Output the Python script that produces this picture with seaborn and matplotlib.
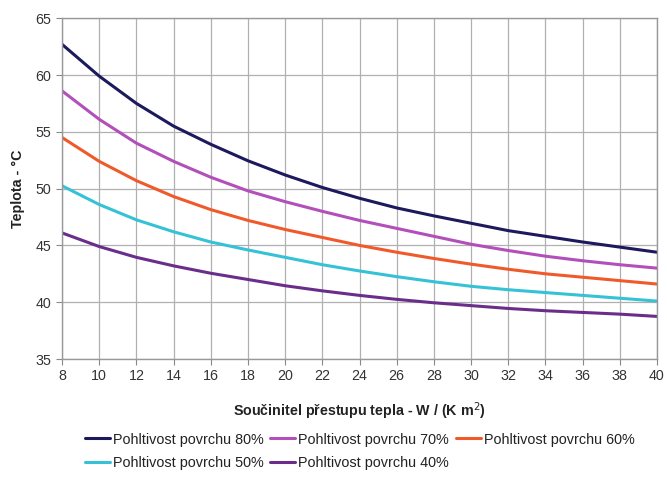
import matplotlib
matplotlib.use("Agg")
import matplotlib.pyplot as plt
import seaborn as sns
import pandas as pd
from matplotlib.lines import Line2D

x_vals = [8, 10, 12, 14, 16, 18, 20, 22, 24, 26, 28, 30, 32, 34, 36, 38, 40]
t80 = [62.7, 59.9, 57.5, 55.5, 53.9, 52.45, 51.2, 50.1, 49.15, 48.3, 47.6, 46.95, 46.3, 45.8, 45.3, 44.85, 44.4]
t70 = [58.6, 56.1, 54.0, 52.4, 51.0, 49.8, 48.85, 48.0, 47.2, 46.5, 45.8, 45.1, 44.55, 44.05, 43.65, 43.3, 43.0]
t60 = [54.5, 52.4, 50.7, 49.3, 48.15, 47.2, 46.4, 45.7, 45.0, 44.4, 43.85, 43.35, 42.9, 42.5, 42.2, 41.9, 41.6]
t50 = [50.25, 48.6, 47.25, 46.2, 45.3, 44.6, 43.95, 43.3, 42.75, 42.25, 41.8, 41.4, 41.1, 40.85, 40.6, 40.35, 40.1]
t40 = [46.1, 44.9, 43.95, 43.2, 42.55, 42.0, 41.45, 41.0, 40.6, 40.25, 39.95, 39.7, 39.45, 39.25, 39.1, 38.95, 38.75]
series_names = ["Pohltivost povrchu 80%", "Pohltivost povrchu 70%", "Pohltivost povrchu 60%",
                "Pohltivost povrchu 50%", "Pohltivost povrchu 40%"]
colors = ["#1c1a5c", "#b24fba", "#f05a2a", "#35c2d6", "#6b2d8c"]
x_ticks = list(range(8, 41, 2))
y_ticks = [35, 40, 45, 50, 55, 60, 65]

rows = []
for name, vals in zip(series_names, [t80, t70, t60, t50, t40]):
    for xv, yv in zip(x_vals, vals):
        rows.append({"x": xv, "y": yv, "series": name})
df = pd.DataFrame(rows)

sns.set_theme(style="white")
plt.rcParams["font.family"] = ["Liberation Sans", "DejaVu Sans"]

fig = plt.figure(figsize=(6.67, 4.79), dpi=100)
ax = fig.add_axes([0.093, 0.2505, 0.892, 0.7115])

sns.lineplot(data=df, x="x", y="y", hue="series", palette=dict(zip(series_names, colors)),
             hue_order=series_names, linewidth=2.2, ax=ax, legend=False)
for ln in ax.get_lines():
    ln.set_solid_joinstyle("round")
    ln.set_solid_capstyle("round")

ax.set_xlim(8, 40)
ax.set_ylim(35, 65)
ax.set_xticks(x_ticks)
ax.set_yticks(y_ticks)
ax.tick_params(axis="both", labelsize=10.3, length=4, width=0.8,
               direction="out", bottom=True, left=True, colors="#888888", labelcolor="#333333")
ax.grid(True, color="#b0b0b0", linewidth=0.9)
ax.set_axisbelow(True)
for s in ax.spines.values():
    s.set_color("#999999")
    s.set_linewidth(1.0)

ax.set_xlabel("Součinitel přestupu tepla - W / (K m$^2$)", fontsize=10.3, fontweight="bold",
              color="#222222", labelpad=12)
ax.set_ylabel("Teplota - °C", fontsize=10.3, fontweight="bold", color="#222222", labelpad=8)

# legend filled row-wise (matplotlib fills column-wise, so reorder)
order = [0, 3, 1, 4, 2]
handles = [Line2D([0], [0], color=colors[i], lw=2.2) for i in order]
labels = [series_names[i] for i in order]
leg = fig.legend(handles, labels, loc="upper left", bbox_to_anchor=(0.127, 0.097),
                 ncol=3, frameon=False, fontsize=10.4, handlelength=1.75, handletextpad=0.2,
                 columnspacing=0.45, labelspacing=0.68, borderpad=0, borderaxespad=0)
for t in leg.get_texts():
    t.set_color("#222222")

fig.savefig("out.png", dpi=100)
